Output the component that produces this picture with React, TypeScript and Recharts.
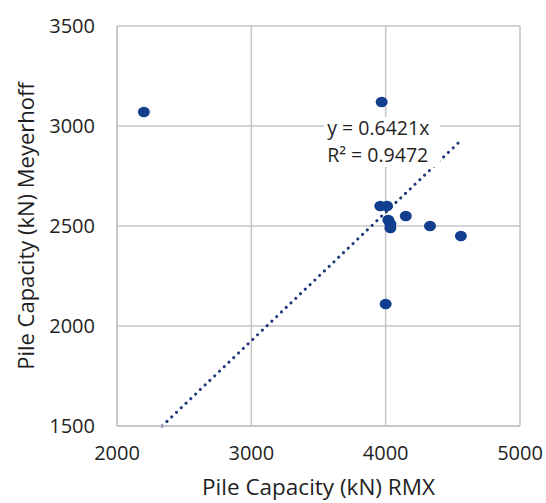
import React from 'react';
import {
  ScatterChart,
  Scatter,
  XAxis,
  YAxis,
  CartesianGrid,
  ReferenceLine,
  ReferenceDot,
  Label,
} from 'recharts';

// Pile capacity, RMX (x) vs Meyerhoff (y), kN
const rmxValues = [2200, 3970, 3960, 4010, 4020, 4035, 4035, 4150, 4330, 4560, 4000];
const meyerhoffValues = [3070, 3120, 2600, 2600, 2530, 2510, 2490, 2550, 2500, 2450, 2110];

const xTicks = [2000, 3000, 4000, 5000];
const yTicks = [1500, 2000, 2500, 3000, 3500];

// linear trendline through origin, as printed on the chart
const trendSlope = 0.6421;
const trendR2 = 0.9472;

const points = rmxValues.map((x, i) => ({ x, y: meyerhoffValues[i] }));

const xMax = Math.max(...rmxValues);
const trendStartX = yTicks[0] / trendSlope; // where the line enters the plot
const trendSegment = [
  { x: trendStartX, y: trendSlope * trendStartX },
  { x: xMax, y: trendSlope * xMax },
];

const FONT = '"Open Sans", "Liberation Sans", sans-serif';
const TEXT = '#1f1f1f';
const GRID = '#c4c4c4';
const MARKER = '#123e8e';

const EquationLabel = (props: any) => {
  const { cx, cy } = props;
  if (cx == null || cy == null) return null;
  return (
    <g>
      <rect x={cx - 3} y={cy - 11} width={116} height={50} fill="#ffffff" />
      <text x={cx} y={cy + 7} fontFamily={FONT} fontSize={19.5} fill={TEXT}>
        {`y = ${trendSlope}x`}
      </text>
      <text x={cx} y={cy + 34} fontFamily={FONT} fontSize={19.5} fill={TEXT}>
        {`R² = ${trendR2}`}
      </text>
    </g>
  );
};

export default function App() {
  return (
    <div style={{ position: 'absolute', left: 0, top: 0, background: '#fff' }}>
      <ScatterChart
        width={546}
        height={503}
        margin={{ top: 26, right: 26, bottom: 0, left: 0 }}
      >
        <CartesianGrid stroke={GRID} strokeWidth={1.5} />
        <XAxis
          type="number"
          dataKey="x"
          domain={[2000, 5000]}
          ticks={xTicks}
          height={77}
          axisLine={{ stroke: GRID, strokeWidth: 1.5 }}
          tickLine={false}
          tickSize={0}
          tickMargin={20}
          tick={{ fill: TEXT, fontSize: 20, fontFamily: FONT }}
          allowDataOverflow
        >
          <Label
            value="Pile Capacity (kN) RMX"
            position="insideBottom"
            offset={8}
            style={{ fill: TEXT, fontSize: 22.5, fontFamily: FONT }}
          />
        </XAxis>
        <YAxis
          type="number"
          dataKey="y"
          domain={[1500, 3500]}
          ticks={yTicks}
          width={117}
          axisLine={{ stroke: GRID, strokeWidth: 1.5 }}
          tickLine={false}
          tickSize={0}
          tickMargin={22}
          tick={{ fill: TEXT, fontSize: 20, fontFamily: FONT }}
          allowDataOverflow
        >
          <Label
            value="Pile Capacity (kN) Meyerhoff"
            angle={-90}
            position="insideLeft"
            offset={26}
            style={{ fill: TEXT, fontSize: 22, fontFamily: FONT, textAnchor: 'middle' }}
          />
        </YAxis>
        <ReferenceLine
          segment={trendSegment}
          stroke="#1f3a78"
          strokeWidth={3}
          strokeDasharray="0.1 6.5"
          strokeLinecap="round"
          ifOverflow="visible"
        />
        <Scatter
          data={points}
          fill={MARKER}
          isAnimationActive={false}
          shape={(p: any) => <ellipse cx={p.cx} cy={p.cy} rx={6} ry={5.3} fill={MARKER} />}
        />
        <ReferenceDot x={3565} y={2990} r={0} shape={EquationLabel} ifOverflow="visible" />
      </ScatterChart>
    </div>
  );
}
